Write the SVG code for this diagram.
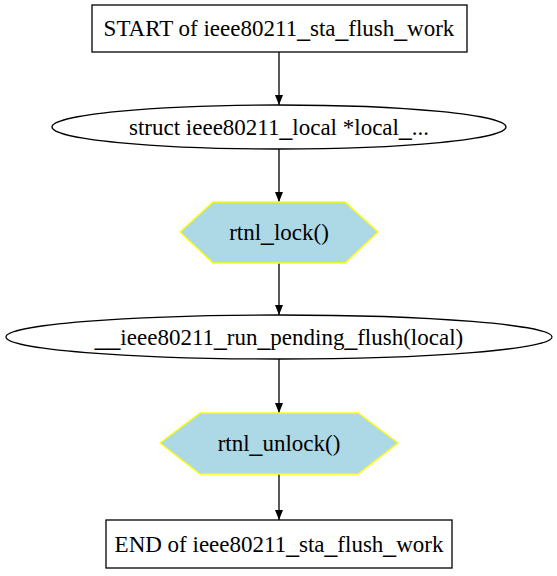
<svg xmlns="http://www.w3.org/2000/svg" width="557" height="576" viewBox="0 0 557 576">
<defs>
<marker id="ah" viewBox="0 0 10 10" refX="10" refY="5" markerWidth="10" markerHeight="10" markerUnits="userSpaceOnUse" orient="auto">
<path d="M0,1 L10,5 L0,9 Z" fill="#000"/>
</marker>
</defs>
<rect width="557" height="576" fill="#fff"/>
<g id="edges" stroke="#000" stroke-width="1.3" fill="none">
<line x1="279" y1="52" x2="279" y2="105" marker-end="url(#ah)"/>
<line x1="279" y1="149" x2="279" y2="202" marker-end="url(#ah)"/>
<line x1="279" y1="263" x2="279" y2="315" marker-end="url(#ah)"/>
<line x1="279" y1="359" x2="279" y2="413" marker-end="url(#ah)"/>
<line x1="279" y1="474" x2="279" y2="520" marker-end="url(#ah)"/>
</g>
<g id="start">
<rect x="92" y="5" width="375" height="47" fill="#fff" stroke="#000" stroke-width="1.3"/>
<text x="279" y="36" font-family="Liberation Serif" font-size="23" text-anchor="middle" fill="#000">START of ieee80211<tspan font-family="Liberation Sans">_</tspan>sta<tspan font-family="Liberation Sans">_</tspan>flush<tspan font-family="Liberation Sans">_</tspan>work</text>
</g>
<g id="decl">
<ellipse cx="279" cy="127" rx="227" ry="22" fill="#fff" stroke="#000" stroke-width="1.3"/>
<text x="279" y="135" font-family="Liberation Serif" font-size="23" text-anchor="middle" fill="#000">struct ieee80211<tspan font-family="Liberation Sans">_</tspan>local *local<tspan font-family="Liberation Sans">_</tspan>...</text>
</g>
<g id="lock">
<polygon points="180,232 213,202 345,202 378,232 345,263 213,263" fill="#add8e6" stroke="#ffff00" stroke-width="1.3"/>
<text x="279" y="240" font-family="Liberation Serif" font-size="23" text-anchor="middle" fill="#000">rtnl<tspan font-family="Liberation Sans">_</tspan>lock()</text>
</g>
<g id="flush">
<ellipse cx="279" cy="337" rx="273" ry="22" fill="#fff" stroke="#000" stroke-width="1.3"/>
<text x="279" y="345" font-family="Liberation Serif" font-size="23" text-anchor="middle" fill="#000"><tspan font-family="Liberation Sans">__</tspan>ieee80211<tspan font-family="Liberation Sans">_</tspan>run<tspan font-family="Liberation Sans">_</tspan>pending<tspan font-family="Liberation Sans">_</tspan>flush(local)</text>
</g>
<g id="unlock">
<polygon points="160,443 200,413 358,413 398,443 358,474 200,474" fill="#add8e6" stroke="#ffff00" stroke-width="1.3"/>
<text x="279" y="451" font-family="Liberation Serif" font-size="23" text-anchor="middle" fill="#000">rtnl<tspan font-family="Liberation Sans">_</tspan>unlock()</text>
</g>
<g id="end">
<rect x="106" y="520" width="346" height="48" fill="#fff" stroke="#000" stroke-width="1.3"/>
<text x="279" y="552" font-family="Liberation Serif" font-size="23" text-anchor="middle" fill="#000">END of ieee80211<tspan font-family="Liberation Sans">_</tspan>sta<tspan font-family="Liberation Sans">_</tspan>flush<tspan font-family="Liberation Sans">_</tspan>work</text>
</g>
</svg>
